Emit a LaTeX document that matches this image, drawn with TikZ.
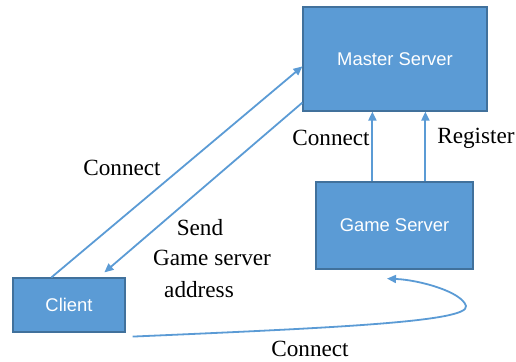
\documentclass[tikz,border=0pt]{standalone}
\usepackage{fontspec}
\setmainfont{Liberation Serif}
\newfontfamily\boxfont{Liberation Sans}
\usetikzlibrary{arrows.meta,calc}
\definecolor{boxfill}{HTML}{5B9BD5}
\definecolor{boxline}{HTML}{41719C}
\definecolor{arrowcol}{HTML}{5B9BD5}
\tikzset{
  server/.style={draw=boxline, line width=0.6pt, fill=boxfill, text=white,
    font=\boxfont\fontsize{9.2}{11}\selectfont, inner sep=0pt},
  link/.style={draw=arrowcol, line width=0.9pt, -{Triangle[width=4pt,length=4.5pt]}},
  lbl/.style={font=\fontsize{11.6}{13.5}\selectfont, text=black, inner sep=0pt}
}
\begin{document}
\begin{tikzpicture}[x=0.5pt,y=-0.5pt]
\useasboundingbox (0,0) rectangle (516,362);
\node[server, minimum width=92pt, minimum height=52pt] (master) at (395,59) {Master Server};
\node[server, minimum width=78.5pt, minimum height=43.5pt] (game) at (394.5,225.5) {Game Server};
\node[server, minimum width=56pt, minimum height=27pt] (client) at (69,305) {Client};

\draw[link] ([xshift=19.5pt]client.north west) -- ([yshift=-30pt]master.north west);
\draw[link] ([yshift=4.5pt]master.south west) -- ([xshift=46pt,yshift=2.5pt]client.north west);
\draw[link] ([xshift=28.5pt]game.north west) coordinate (v1) -- (v1 |- master.south);
\draw[link] ([xshift=55pt]game.north west) coordinate (v2) -- (v2 |- master.south);
\draw[link] ([xshift=3.5pt,yshift=-2pt]client.south east) .. controls (330,328) and (470,322) .. (466,306)
  .. controls (462,292) and (420,280) .. ([xshift=-3.75pt,yshift=-4.5pt]game.south);

\node[lbl] (lconn) at (122,168) {Connect};
\node[lbl] (lsend) at (200,228) {Send};
\node[lbl] (lgame) at (212,258) {Game server};
\node[lbl] (laddr) at (199,290) {address};
\node[lbl] (lconn2) at (331,138) {Connect};
\node[lbl] (lreg) at (476,138) {Register};
\node[lbl] (lconn3) at (310,349) {Connect};
\end{tikzpicture}
\end{document}
